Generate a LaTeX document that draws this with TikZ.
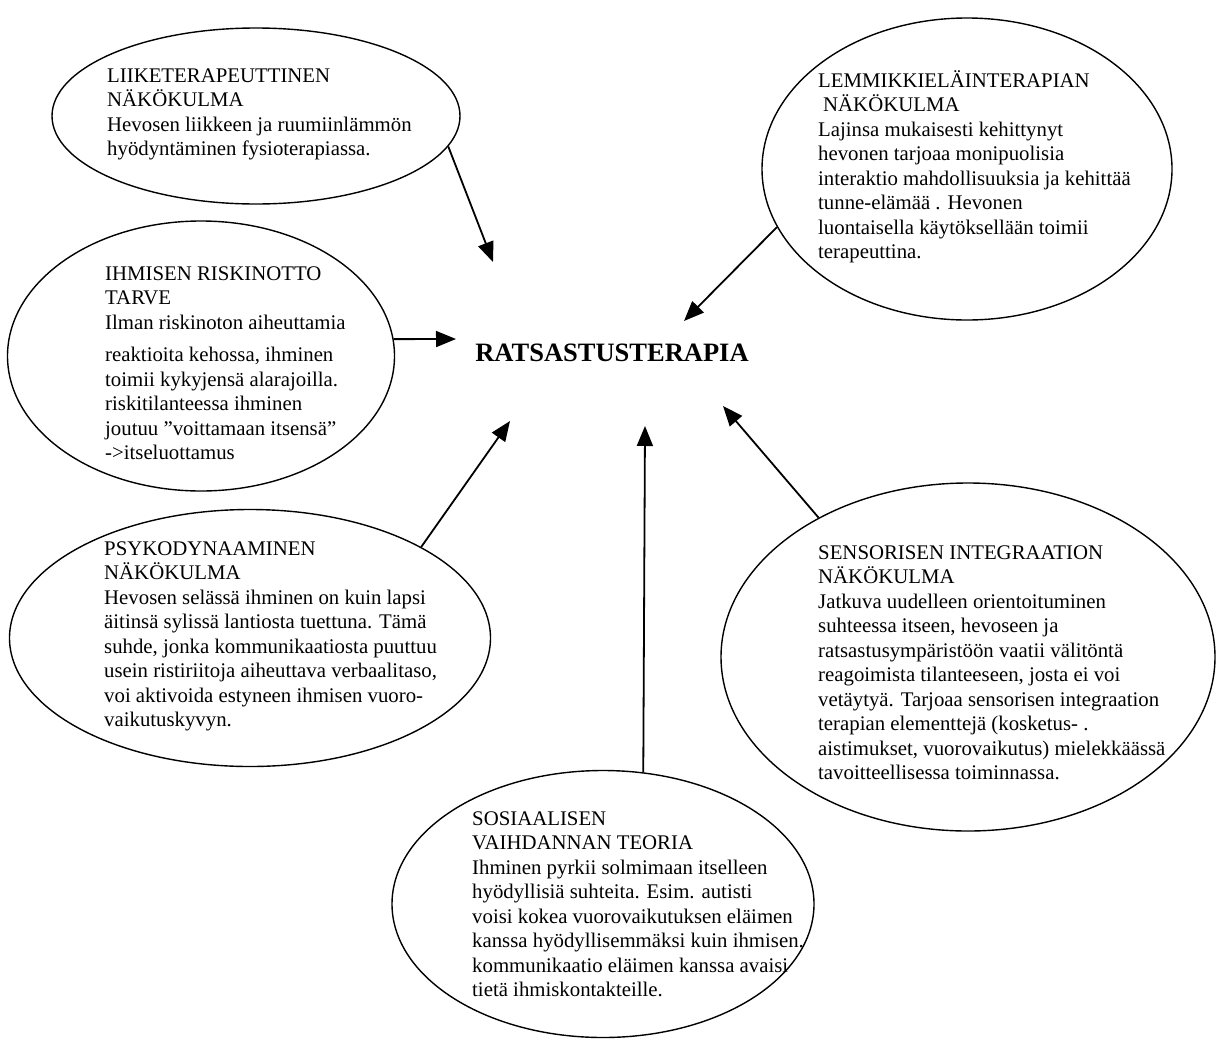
\documentclass[tikz,border=0pt]{standalone}
\usepackage{fontspec}
\setmainfont{Liberation Serif}
\usetikzlibrary{shapes.geometric,arrows.meta}
\begin{document}
\begin{tikzpicture}[x=1pt,y=-1pt,
  bubble/.style={draw,ellipse,line width=1.4pt,inner sep=0pt},
  txt/.style={anchor=north west,inner sep=0pt,align=left,font=\fontsize{20.8}{24.5}\selectfont},
  arr/.style={line width=1.8pt,-{Triangle[length=20pt,width=16pt]}}]
\useasboundingbox (0,0) rectangle (1218,1039);
\fill[white] (0,0) rectangle (1218,1039);
% ellipses
\node[bubble,minimum width=408pt,minimum height=176pt] (e1) at (256,116) {};
\node[bubble,minimum width=387pt,minimum height=270pt] (e2) at (201,356) {};
\node[bubble,minimum width=481pt,minimum height=257pt] (e3) at (250,638) {};
\node[bubble,minimum width=410pt,minimum height=302pt] (e4) at (967,169) {};
\node[bubble,minimum width=494pt,minimum height=348pt] (e5) at (968,657) {};
\node[bubble,minimum width=422pt,minimum height=267pt] (e6) at (603,904) {};
% texts
\node[txt] (x1) at (107,67) {\rule{0pt}{15pt}LIIKETERAPEUTTINEN\\NÄKÖKULMA\\Hevosen liikkeen ja ruumiinlämmön\\hyödyntäminen fysioterapiassa.};
\node[txt] (x2) at (105,265) {\rule{0pt}{15pt}IHMISEN RISKINOTTO\\TARVE\\Ilman riskinoton aiheuttamia\\[8pt]reaktioita kehossa, ihminen\\toimii kykyjensä alarajoilla.\\riskitilanteessa ihminen\\joutuu ”voittamaan itsensä”\\->itseluottamus};
\node[txt] (x3) at (104,540) {\rule{0pt}{15pt}PSYKODYNAAMINEN\\NÄKÖKULMA\\Hevosen selässä ihminen on kuin lapsi\\äitinsä sylissä lantiosta tuettuna. Tämä\\suhde, jonka kommunikaatiosta puuttuu\\usein ristiriitoja aiheuttava verbaalitaso,\\voi aktivoida estyneen ihmisen vuoro-\\vaikutuskyvyn.};
\node[txt] (x4) at (818,70) {\rule{0pt}{15pt}LEMMIKKIELÄINTERAPIAN\\\hspace{5pt}NÄKÖKULMA\\Lajinsa mukaisesti kehittynyt\\hevonen tarjoaa monipuolisia\\interaktio mahdollisuuksia ja kehittää\\tunne-elämää . Hevonen\\luontaisella käytöksellään toimii\\terapeuttina.};
\node[txt] (x5) at (818,544) {\rule{0pt}{15pt}SENSORISEN INTEGRAATION\\NÄKÖKULMA\\Jatkuva uudelleen orientoituminen\\suhteessa itseen, hevoseen ja\\ratsastusympäristöön vaatii välitöntä\\reagoimista tilanteeseen, josta ei voi\\vetäytyä. Tarjoaa sensorisen integraation\\terapian elementtejä (kosketus- .\\aistimukset, vuorovaikutus) mielekkäässä\\tavoitteellisessa toiminnassa.};
\node[txt] (x6) at (472,810) {\rule{0pt}{15pt}SOSIAALISEN\\VAIHDANNAN TEORIA\\Ihminen pyrkii solmimaan itselleen\\hyödyllisiä suhteita. Esim. autisti\\voisi kokea vuorovaikutuksen eläimen\\kanssa hyödyllisemmäksi kuin ihmisen.\\kommunikaatio eläimen kanssa avaisi\\tietä ihmiskontakteille.};
% centre
\node[font=\fontsize{26.5}{30}\selectfont\bfseries] (c) at (612,353) {RATSASTUSTERAPIA};
% arrow tips
\coordinate (t1) at (493,262);
\coordinate (t2) at (456,339);
\coordinate (t3) at (510,421);
\coordinate (t4) at (645,426);
\coordinate (t5) at (723,406);
\coordinate (t6) at (684,321);
\draw[arr] (e1.-9.6) -- (t1);
\draw[arr] (e2.5) -- (t2);
\draw[arr] (e3.28.6) -- (t3);
\draw[arr] (e6.73) -- (t4);
\draw[arr] (e5.137.7) -- (t5);
\draw[arr] (e4.197) -- (t6);
\end{tikzpicture}
\end{document}
